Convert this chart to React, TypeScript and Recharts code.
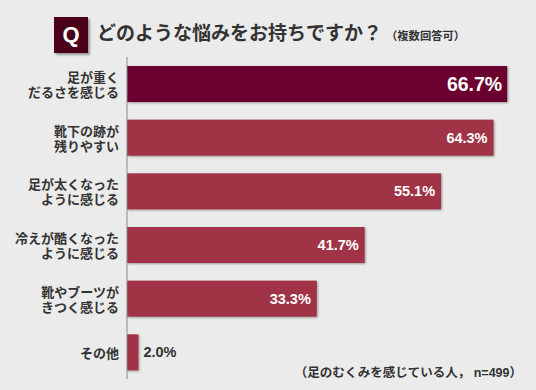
import React from 'react';
import { BarChart, Bar, XAxis, YAxis, Cell, LabelList } from 'recharts';

// Answers (two lines each, split on \n) and share of respondents (%)
const categories = [
  '足が重く\nだるさを感じる',
  '靴下の跡が\n残りやすい',
  '足が太くなった\nように感じる',
  '冷えが酷くなった\nように感じる',
  '靴やブーツが\nきつく感じる',
  'その他',
];
const values = [66.7, 64.3, 55.1, 41.7, 33.3, 2.0];

const data = categories.map((name, i) => ({ name, value: values[i] }));

const FONT = "'Liberation Sans', 'Noto Sans CJK JP', sans-serif";
const TEXT = '#333333';

const CategoryTick = (props: any) => {
  const { x, y, payload } = props;
  const lines = String(payload.value).split('\n');
  const step = 15;
  const start = -((lines.length - 1) * step) / 2 + 1;
  return (
    <text
      x={x}
      y={y}
      textAnchor="end"
      fill={TEXT}
      fontSize={13}
      fontWeight={700}
      fontFamily={FONT}
    >
      {lines.map((line, i) => (
        <tspan key={i} x={x} y={y + start + i * step} dominantBaseline="central">
          {line}
        </tspan>
      ))}
    </text>
  );
};

const ShadowBar = (props: any) => {
  const { x, y, width, height, fill } = props;
  return (
    <rect
      x={x}
      y={y}
      width={width}
      height={height}
      fill={fill}
      style={{ filter: 'drop-shadow(1.5px 1.5px 1px rgba(0,0,0,0.35))' }}
    />
  );
};

const ValueLabel = (props: any) => {
  const { x, y, width, height, value, index } = props;
  const cy = y + height / 2;
  const text = `${Number(value).toFixed(1)}%`;
  if (value < 10) {
    return (
      <text
        x={x + width + 5}
        y={cy}
        dominantBaseline="central"
        fill={TEXT}
        fontSize={14.5}
        fontWeight={700}
        fontFamily={FONT}
      >
        {text}
      </text>
    );
  }
  const big = index === 0;
  return (
    <text
      x={x + width - (big ? 5 : 6)}
      y={cy}
      textAnchor="end"
      dominantBaseline="central"
      fill="#ffffff"
      fontSize={big ? 19.5 : 14.5}
      fontWeight={700}
      fontFamily={FONT}
    >
      {text}
    </text>
  );
};

export default function App() {
  return (
    <div
      style={{
        position: 'absolute',
        left: 0,
        top: 0,
        width: 536,
        height: 390,
        background: '#ebebeb',
        fontFamily: FONT,
        overflow: 'hidden',
      }}
    >
      {/* Title */}
      <div
        style={{
          position: 'absolute',
          left: 54,
          top: 17,
          width: 34,
          height: 36,
          background: '#4a0018',
          boxShadow: '1.5px 1.5px 2px rgba(0,0,0,0.35)',
          color: '#fff',
          fontSize: 22,
          fontWeight: 700,
          lineHeight: '36px',
          textAlign: 'center',
        }}
      >
        Q
      </div>
      <div
        style={{
          position: 'absolute',
          left: 97,
          top: 22,
          color: TEXT,
          fontWeight: 700,
          whiteSpace: 'nowrap',
          lineHeight: '24px',
        }}
      >
        <span style={{ fontSize: 19 }}>どのような悩みをお持ちですか？</span>
        <span style={{ fontSize: 11.3, marginLeft: 4 }}>（複数回答可）</span>
      </div>

      <div style={{ position: 'absolute', left: 0, top: 0 }}>
        <BarChart
          width={536}
          height={390}
          data={data}
          layout="vertical"
          margin={{ top: 57, right: 10, bottom: 11, left: 0 }}
          barCategoryGap={0}
        >
          <XAxis type="number" domain={[0, 70]} hide />
          <YAxis
            type="category"
            dataKey="name"
            width={127}
            axisLine={{ stroke: '#8a8a8a', strokeWidth: 1 }}
            tickLine={false}
            tick={<CategoryTick />}
            tickMargin={2}
            interval={0}
          />
          <Bar dataKey="value" barSize={36} shape={<ShadowBar />} isAnimationActive={false}>
            {data.map((_, i) => (
              <Cell key={i} fill={i === 0 ? '#6b0030' : '#a03345'} />
            ))}
            <LabelList dataKey="value" content={<ValueLabel />} />
          </Bar>
        </BarChart>
      </div>

      {/* Footnote */}
      <div
        style={{
          position: 'absolute',
          right: 14,
          top: 364,
          color: TEXT,
          fontSize: 12.5,
          fontWeight: 700,
          whiteSpace: 'nowrap',
          lineHeight: '18px',
        }}
      >
        （足のむくみを感じている人， n=499）
      </div>
    </div>
  );
}
